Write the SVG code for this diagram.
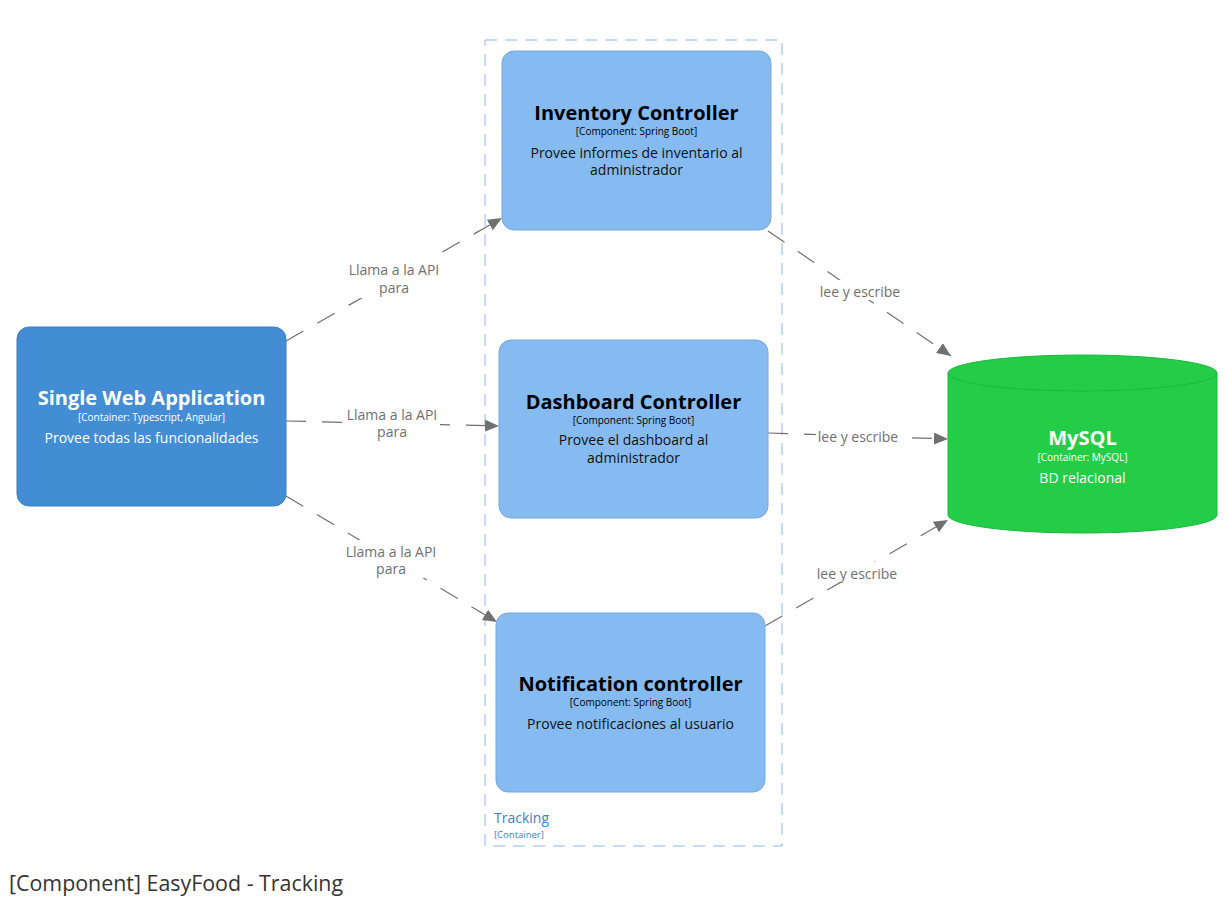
<svg xmlns="http://www.w3.org/2000/svg" width="1226" height="899" viewBox="0 0 1226 899">
<style>
text{font-family:"Open Sans","Liberation Sans",sans-serif;text-anchor:middle}
.comp{fill:#85bbf0;stroke:#78a8dc;stroke-width:1}
.cont{fill:#438dd5;stroke:#3c7fc0;stroke-width:1}
.t{font-size:20px;font-weight:bold;fill:#000}
.tw{font-size:20px;font-weight:bold;fill:#fff}
.k{font-size:10px;fill:#000}
.kw{font-size:10px;fill:#fff}
.d{font-size:14px;fill:#111}
.dw{font-size:14px;fill:#fff}
.edge{stroke:#707070;stroke-width:1.2;fill:none;stroke-dasharray:20,16}
.lbl{font-size:14px;fill:#707070}
.bg{fill:#fff}
</style>
<defs>
<marker id="arr" viewBox="0 0 14 12" refX="14" refY="6" markerWidth="14" markerHeight="12" markerUnits="userSpaceOnUse" orient="auto">
<path d="M0,0 L14,6 L0,12 Z" fill="#707070"/>
</marker>
</defs>
<rect width="1226" height="899" fill="#fff"/>
<g id="boundary-tracking">
<rect x="485" y="40" width="297" height="806" fill="none" stroke="#8ab8e8" stroke-width="1" stroke-dasharray="12,8"/>
<text x="494" y="823" style="text-anchor:start;font-size:14px;fill:#3f7fc4">Tracking</text>
<text x="494" y="838" style="text-anchor:start;font-size:9.5px;fill:#3f7fc4">[Container]</text>
</g>
<g id="connectors">
<line class="edge" x1="286" y1="341" x2="502" y2="218" marker-end="url(#arr)"/>
<line class="edge" x1="286" y1="421" x2="499" y2="426" marker-end="url(#arr)"/>
<line class="edge" x1="286" y1="496" x2="497" y2="622" marker-end="url(#arr)"/>
<line class="edge" x1="768" y1="231" x2="951" y2="356" marker-end="url(#arr)"/>
<line class="edge" x1="768" y1="433" x2="948" y2="439" marker-end="url(#arr)"/>
<line class="edge" x1="765" y1="626" x2="948" y2="520" marker-end="url(#arr)"/>
<rect class="bg" x="346" y="258" width="96" height="40"/>
<rect class="bg" x="342" y="403" width="98" height="38"/>
<rect class="bg" x="342" y="540" width="98" height="38"/>
<rect class="bg" x="818" y="280" width="86" height="20"/>
<rect class="bg" x="816" y="426" width="86" height="20"/>
<rect class="bg" x="814" y="562" width="86" height="20"/>
<text class="lbl" x="394" y="275">Llama a la API</text>
<text class="lbl" x="394" y="293">para</text>
<text class="lbl" x="392" y="420">Llama a la API</text>
<text class="lbl" x="392" y="437">para</text>
<text class="lbl" x="391" y="557">Llama a la API</text>
<text class="lbl" x="391" y="574">para</text>
<text class="lbl" x="860" y="297">lee y escribe</text>
<text class="lbl" x="858" y="442">lee y escribe</text>
<text class="lbl" x="857" y="579">lee y escribe</text>
</g>
<g id="node-swa">
<rect class="cont" x="17" y="327" width="269" height="179" rx="12"/>
<text class="tw" x="151.5" y="405">Single Web Application</text>
<text class="kw" x="151.5" y="421">[Container: Typescript, Angular]</text>
<text class="dw" x="151.5" y="443">Provee todas las funcionalidades</text>
</g>
<g id="node-inventory">
<rect class="comp" x="502" y="51" width="269" height="179" rx="12"/>
<text class="t" x="636.5" y="120">Inventory Controller</text>
<text class="k" x="636.5" y="135">[Component: Spring Boot]</text>
<text class="d" x="636.5" y="158">Provee informes de inventario al</text>
<text class="d" x="636.5" y="175">administrador</text>
</g>
<g id="node-dashboard">
<rect class="comp" x="499" y="340" width="269" height="178" rx="12"/>
<text class="t" x="633.5" y="409">Dashboard Controller</text>
<text class="k" x="633.5" y="424">[Component: Spring Boot]</text>
<text class="d" x="633.5" y="445">Provee el dashboard al</text>
<text class="d" x="633.5" y="463">administrador</text>
</g>
<g id="node-notification">
<rect class="comp" x="496" y="613" width="269" height="179" rx="12"/>
<text class="t" x="630.5" y="691">Notification controller</text>
<text class="k" x="630.5" y="706">[Component: Spring Boot]</text>
<text class="d" x="630.5" y="729">Provee notificaciones al usuario</text>
</g>
<g id="node-mysql">
<path d="M948,373 L948,515 A134.5,18 0 0 0 1217,515 L1217,373 A134.5,18 0 0 0 948,373 Z" fill="#23cd47" stroke="#1fb83f" stroke-width="1"/>
<path d="M948,373 A134.5,18 0 0 0 1217,373" fill="none" stroke="#1fb83f" stroke-width="1"/>
<text class="tw" x="1082.5" y="445">MySQL</text>
<text class="kw" x="1082.5" y="461">[Container: MySQL]</text>
<text class="dw" x="1082.5" y="483">BD relacional</text>
</g>
<text x="9" y="891" style="text-anchor:start;font-size:21.4px;fill:#333">[Component] EasyFood - Tracking</text>
</svg>
